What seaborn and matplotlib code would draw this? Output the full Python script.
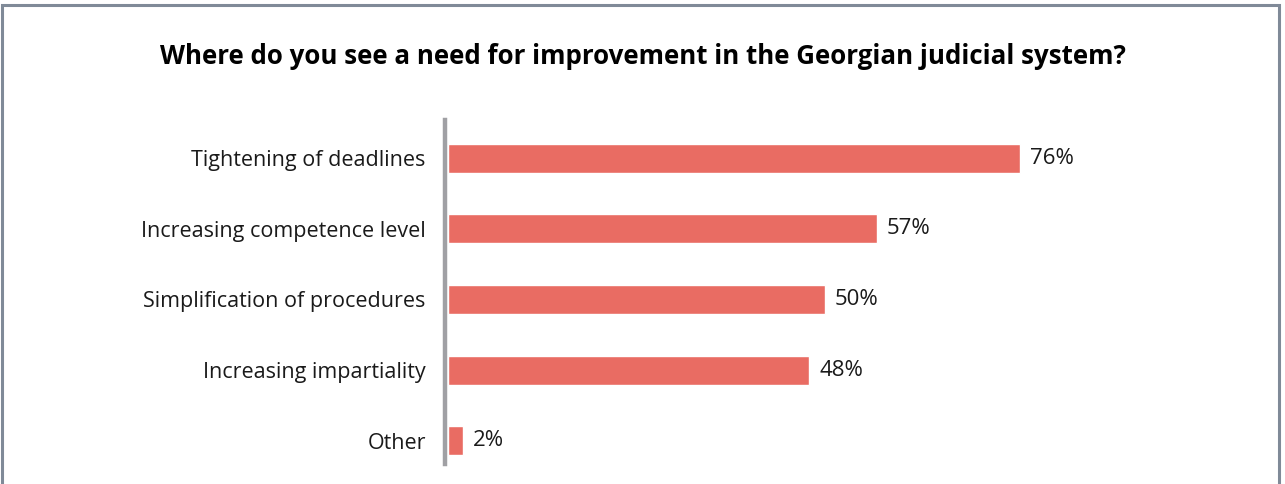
import matplotlib
matplotlib.use("Agg")
import matplotlib.pyplot as plt
from matplotlib.patches import Rectangle
import seaborn as sns
import pandas as pd

categories = [
    "Tightening of deadlines",
    "Increasing competence level",
    "Simplification of procedures",
    "Increasing impartiality",
    "Other",
]
shares = [76, 57, 50, 48, 2]
value_labels = ["76%", "57%", "50%", "48%", "2%"]

title = "Where do you see a need for improvement in the Georgian judicial system?"

sns.set_theme(style="white")
plt.rcParams["font.family"] = ["Open Sans", "DejaVu Sans"]

df = pd.DataFrame({"category": categories, "share": shares})

fig = plt.figure(figsize=(12.85, 4.84), dpi=100)
ax = fig.add_axes([448 / 1285, 1 - 464 / 484, 753 / 1285, (464 - 120) / 484])

sns.barplot(data=df, x="share", y="category", color="#E96C63", saturation=1,
            width=0.41, ax=ax, orient="h")

ax.set_xlim(0, 100)
ax.set_ylim(len(categories) - 1 + 0.33, -0.54)
ax.set_xlabel("")
ax.set_ylabel("")
ax.set_xticks([])
ax.tick_params(axis="y", length=0, pad=13.5, labelsize=15.5, labelcolor="#1a1a1a")

for s in ["top", "right", "bottom"]:
    ax.spines[s].set_visible(False)
ax.spines["left"].set_color("#A0A0A4")
ax.spines["left"].set_linewidth(3.2)
ax.spines["left"].set_position(("outward", 2.5))

for patch, lab in zip(ax.patches, value_labels):
    w = patch.get_width()
    yc = patch.get_y() + patch.get_height() / 2
    ax.annotate(lab, (w, yc), xytext=(7, 0), textcoords="offset points",
                va="center", ha="left", fontsize=16, color="#1a1a1a")

fig.text(0.5, 1 - 56 / 484, title, ha="center", va="center",
         fontsize=18.6, fontweight="bold", color="black")

# outer frame
fig.patches.append(Rectangle((1.5 / 1285, -0.05), (1278.5 - 1.5) / 1285, (484 - 5) / 484 + 0.05,
                             transform=fig.transFigure, fill=False,
                             edgecolor="#808A98", linewidth=2.2, zorder=10))

fig.savefig("out.png", dpi=100, facecolor="white")
